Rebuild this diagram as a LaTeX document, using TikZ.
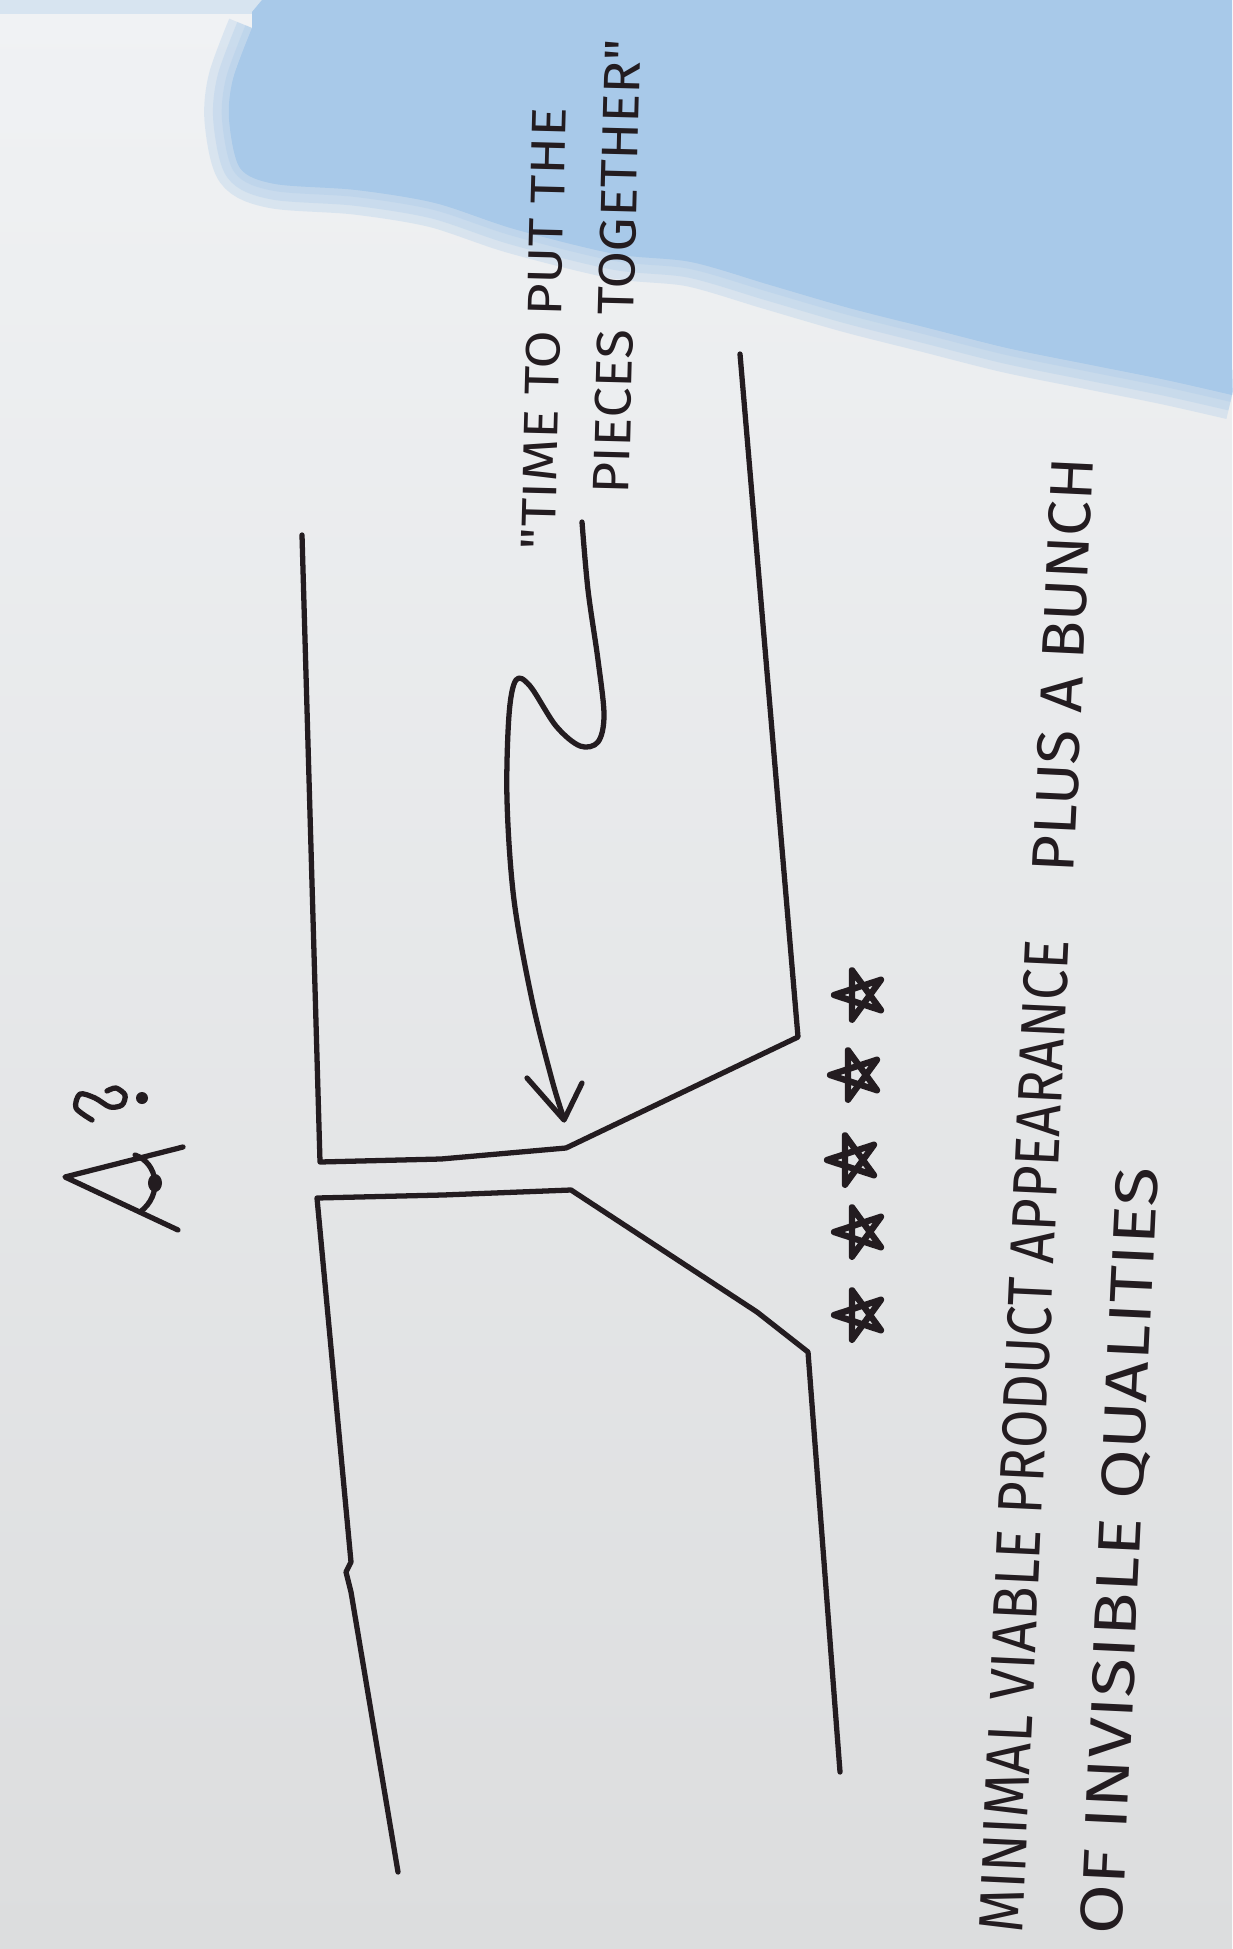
\documentclass[tikz,border=0pt]{standalone}
\usepackage{fontspec}
\usepackage{graphicx}
\newfontfamily\hand{Fira Sans}
\definecolor{ink}{HTML}{231C20}
\definecolor{sky}{HTML}{A8C9E9}
\definecolor{paperA}{HTML}{F0F2F4}
\definecolor{paperB}{HTML}{DCDDDE}
\begin{document}
\begin{tikzpicture}[x=0.01cm,y=-0.01cm,
  pen/.style={draw=ink,line width=1.5pt,line cap=round,line join=round},
  lettering/.style={inner sep=0pt,text=ink,font=\hand},
  haze/.style={draw=sky,opacity=0.3}]
\useasboundingbox (0,0) rectangle (1232,1949);
% paper and blue background
\shade[top color=paperA,bottom color=paperB] (0,0) rectangle (1232,1949);
\fill[sky!35!paperA] (0,0) rectangle (262,14);
\fill[sky] plot[smooth] coordinates {(1232,395) (1166,380) (1086,364) (1007,348) (928,328) (849,308) (770,285) (691,262) (615,254) (514,229) (435,203) (356,190) (275,184) (240,168) (229,119) (233,79) (252,28)} -- (252,12) -- (262,0) -- (1232,0) -- cycle;
\foreach \w in {14,9,4}
  \draw[haze,line width=\w pt] plot[smooth] coordinates {(1232,395) (1166,380) (1086,364) (1007,348) (928,328) (849,308) (770,285) (691,262) (615,254) (514,229) (435,203) (356,190) (275,184) (240,168) (229,119) (233,79) (252,28)};
% upper channel
\coordinate (ul0) at (302,535);
\coordinate (ul1) at (320,1162);
\coordinate (uh) at (441,1159);
\coordinate (uj) at (566,1148);
\coordinate (ur1) at (798,1037);
\coordinate (ur0) at (740,354);
\draw[pen] (ul0) -- (ul1) -- (uh) -- (uj) -- (ur1) -- (ur0);
% lower channel
\coordinate (ll0) at (398,1872);
\coordinate (ll1) at (317,1198);
\coordinate (lh) at (443,1195);
\coordinate (lj) at (571,1190);
\coordinate (lk) at (757,1312);
\coordinate (lr1) at (808,1352);
\coordinate (lr0) at (840,1772);
\draw[pen] (ll0) -- (351,1592) -- (346,1572) -- (351,1562) -- (ll1) -- (lh) -- (lj) -- (lk) -- (lr1) -- (lr0);
% squiggly arrow
\draw[pen] plot[smooth,tension=0.55] coordinates {(582,522) (588,590) (598,660) (604,715) (598,742) (580,746) (556,726) (530,686) (516,680) (509,715) (507,800) (514,900) (532,1000) (552,1080) (563,1116)};
\coordinate (tip) at (564,1120);
\draw[pen] (527,1078) -- (tip) -- (582,1083);
% eye with question mark
\draw[pen] (183,1147) -- (65,1177) -- (178,1230);
\draw[pen] (135,1155) .. controls (158,1163) and (163,1195) .. (140,1212);
\fill[ink] (155,1183) ellipse (7 and 9);
\draw[pen] plot[smooth] coordinates {(92,1120) (76,1108) (80,1094) (95,1098) (110,1107) (122,1105) (125,1095) (116,1088) (107,1091)};
\fill[ink] (142,1098) circle (6);
% stars
\foreach \c in {(860,995),(856,1075),(853,1160),(860,1232),(860,1315)}
  \draw[pen,line width=1.8pt,shift={\c}] (180:26) -- (324:26) -- (108:26) -- (252:26) -- (36:26) -- cycle;
% texts
\node[lettering,rotate=88.5] (t1) at (544,329) {\resizebox{4.42cm}{0.34cm}{"TIME TO PUT THE}};
\node[lettering,rotate=88.5] (t2) at (617,267) {\resizebox{4.54cm}{0.36cm}{PIECES TOGETHER"}};
\node[lettering,rotate=87.3] (t3) at (1024,1436) {\resizebox{9.93cm}{0.44cm}{MINIMAL VIABLE PRODUCT APPEARANCE}};
\node[lettering,rotate=87.3] (t4) at (1063,665) {\resizebox{4.15cm}{0.42cm}{PLUS A BUNCH}};
\node[lettering,rotate=87.3] (t5) at (1122,1551) {\resizebox{7.67cm}{0.42cm}{OF INVISIBLE QUALITIES}};
\end{tikzpicture}
\end{document}
